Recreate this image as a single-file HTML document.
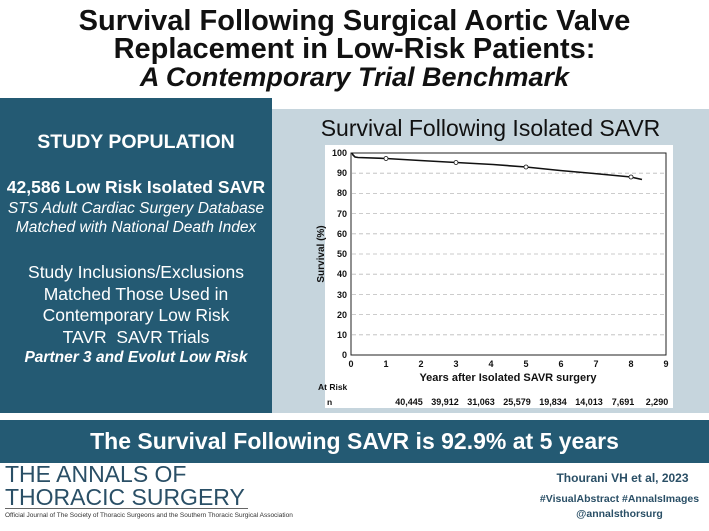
<!DOCTYPE html>
<html><head><meta charset="utf-8"><style>
body{margin:0;width:709px;height:531px;background:#fff;position:relative;overflow:hidden;font-family:"Liberation Sans",sans-serif}
.a{position:absolute}
.t{left:0;width:709px;text-align:center;font-weight:bold;font-size:29px;color:#111;line-height:28px}
.w{color:#fff;text-align:center;left:0;width:272px}
</style></head><body>
<div class="a t" style="top:7px">Survival Following Surgical Aortic Valve</div>
<div class="a t" style="top:35px">Replacement in Low-Risk Patients:</div>
<div class="a t" style="top:63px;font-style:italic;font-size:27px">A Contemporary Trial Benchmark</div>
<div class="a" style="left:0;top:98px;width:272px;height:315px;background:#245a73"></div>
<div class="a" style="left:272px;top:109px;width:437px;height:304px;background:#c6d5dd"></div>
<div class="a w" style="top:131px;font-size:19.5px;font-weight:bold">STUDY POPULATION</div>
<div class="a w" style="top:177px;font-size:17.5px;font-weight:bold">42,586 Low Risk Isolated SAVR</div>
<div class="a w" style="top:199px;font-size:15.5px;font-style:italic;line-height:19px">STS Adult Cardiac Surgery Database<br>Matched with National Death Index</div>
<div class="a w" style="top:262px;font-size:17.5px;line-height:21.5px">Study Inclusions/Exclusions<br>Matched Those Used in<br>Contemporary Low Risk<br>TAVR&nbsp; SAVR Trials</div>
<div class="a w" style="top:349px;font-size:15.5px;font-weight:bold;font-style:italic">Partner 3 and Evolut Low Risk</div>
<div class="a" style="left:272px;width:437px;top:115px;text-align:center;font-size:23px;color:#111">Survival Following Isolated SAVR</div>
<svg class="a" style="left:0;top:0" width="709" height="531">
<rect x="325" y="145" width="348" height="263" fill="#fff"/>
<g stroke="#bbb" stroke-dasharray="4,3" stroke-width="0.8">
<line x1="352" x2="666" y1="173.2" y2="173.2"/><line x1="352" x2="666" y1="193.4" y2="193.4"/><line x1="352" x2="666" y1="213.6" y2="213.6"/><line x1="352" x2="666" y1="233.8" y2="233.8"/><line x1="352" x2="666" y1="254" y2="254"/><line x1="352" x2="666" y1="274.2" y2="274.2"/><line x1="352" x2="666" y1="294.4" y2="294.4"/><line x1="352" x2="666" y1="314.6" y2="314.6"/><line x1="352" x2="666" y1="334.8" y2="334.8"/>
</g>
<rect x="351" y="153" width="315" height="202" fill="none" stroke="#222" stroke-width="1"/>
<path d="M352,153 L353,155 L355,157 L358,157.5 L386,158.5 L420,160.5 L456,162.5 L493,164.5 L526,167 L560,170.5 L594,173.5 L631,177 L642,179.5" fill="none" stroke="#111" stroke-width="1.6"/>
<g fill="#fff" stroke="#111" stroke-width="0.8"><circle cx="386" cy="158.5" r="2"/><circle cx="456" cy="162.5" r="2"/><circle cx="526" cy="167" r="2"/><circle cx="631" cy="177" r="2"/></g>
<g font-size="9" font-weight="bold" fill="#111" text-anchor="end">
<text x="347" y="156">100</text><text x="347" y="176">90</text><text x="347" y="196">80</text><text x="347" y="217">70</text><text x="347" y="237">60</text><text x="347" y="257">50</text><text x="347" y="277">40</text><text x="347" y="298">30</text><text x="347" y="318">20</text><text x="347" y="338">10</text><text x="347" y="358">0</text>
</g>
<g font-size="9" font-weight="bold" fill="#111" text-anchor="middle">
<text x="351" y="367">0</text><text x="386" y="367">1</text><text x="421" y="367">2</text><text x="456" y="367">3</text><text x="491" y="367">4</text><text x="526" y="367">5</text><text x="561" y="367">6</text><text x="596" y="367">7</text><text x="631" y="367">8</text><text x="666" y="367">9</text>
<text x="508" y="381" font-size="11">Years after Isolated SAVR surgery</text>
<text x="409" y="405">40,445</text><text x="445" y="405">39,912</text><text x="481" y="405">31,063</text><text x="517" y="405">25,579</text><text x="553" y="405">19,834</text><text x="589" y="405">14,013</text><text x="623" y="405">7,691</text><text x="657" y="405">2,290</text>
</g>
<text x="318" y="390" font-size="8.5" font-weight="bold" fill="#111">At Risk</text>
<text x="327" y="405" font-size="8.5" font-weight="bold" fill="#111">n</text>
<text transform="translate(324,254) rotate(-90)" font-size="10" font-weight="bold" fill="#111" text-anchor="middle">Survival (%)</text>
</svg>
<div class="a" style="left:0;top:420px;width:709px;height:43px;background:#245a73"></div>
<div class="a" style="left:0;top:428px;width:709px;text-align:center;color:#fff;font-size:23px;font-weight:bold">The Survival Following SAVR is 92.9% at 5 years</div>
<div class="a" style="left:5px;top:463px;font-size:23px;line-height:23px;color:#2a4f66">THE ANNALS OF<br>THORACIC SURGERY</div>
<div class="a" style="left:5px;top:508px;width:243px;border-top:1px solid #666"></div>
<div class="a" style="left:5px;top:512px;font-size:6.5px;color:#333">Official Journal of The Society of Thoracic Surgeons and the Southern Thoracic Surgical Association</div>
<div class="a" style="left:540px;top:471px;width:165px;text-align:center;font-size:12px;font-weight:bold;color:#2a4f66">Thourani VH et al, 2023</div>
<div class="a" style="left:530px;top:492px;width:179px;text-align:center;font-size:10.5px;font-weight:bold;color:#2a4f66;line-height:15px">#VisualAbstract #AnnalsImages<br>@annalsthorsurg</div>
</body></html>
